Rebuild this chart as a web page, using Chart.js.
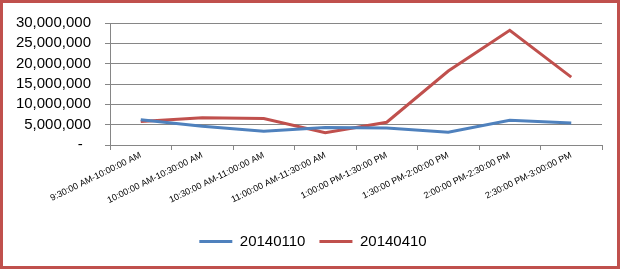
<!DOCTYPE html>
<html><head><meta charset="utf-8">
<script src="https://cdn.jsdelivr.net/npm/chart.js@4/dist/chart.umd.min.js"></script>
<style>
html,body{margin:0;padding:0;background:#fff;}
#wrap{position:relative;width:623px;height:269px;}
#frame{position:absolute;left:0;top:0;width:620px;height:269px;box-sizing:border-box;border:3px solid #C0504D;pointer-events:none;}
canvas{position:absolute;left:0;top:0;}
</style></head>
<body><div id="wrap"><canvas id="c" width="623" height="269"></canvas><div id="frame"></div></div>
<script>
const categories = ["9:30:00 AM-10:00:00 AM","10:00:00 AM-10:30:00 AM","10:30:00 AM-11:00:00 AM","11:00:00 AM-11:30:00 AM","1:00:00 PM-1:30:00 PM","1:30:00 PM-2:00:00 PM","2:00:00 PM-2:30:00 PM","2:30:00 PM-3:00:00 PM"];
const series20140110 = [6200000, 4600000, 3400000, 4300000, 4150000, 3150000, 6100000, 5400000];
const series20140410 = [5800000, 6700000, 6500000, 3000000, 5600000, 18200000, 28200000, 16700000];
const yTicks = [0, 5000000, 10000000, 15000000, 20000000, 25000000, 30000000];

const FONT = "'Liberation Sans', Arial, sans-serif";
const shiftLegend = {
  id: 'shiftLegend',
  afterLayout(chart) {
    const l = chart.legend;
    if (l) { l.left += 12; l.right += 12; }
  }
};
new Chart(document.getElementById('c'), {
  type: 'line',
  plugins: [shiftLegend],
  data: {
    labels: categories,
    datasets: [
      {label: '20140110', data: series20140110, borderColor: '#4F81BD', backgroundColor: '#4F81BD', borderWidth: 3, pointRadius: 0, tension: 0},
      {label: '20140410', data: series20140410, borderColor: '#C0504D', backgroundColor: '#C0504D', borderWidth: 3, pointRadius: 0, tension: 0}
    ]
  },
  options: {
    responsive: false, animation: false,
    layout: {padding: {top: 19, right: 21, bottom: 10, left: 0}},
    plugins: {
      tooltip: {enabled: false},
      legend: {position: 'bottom', labels: {font: {family: FONT, size: 15}, color: '#000', boxWidth: 33, boxHeight: 3, padding: 14,
        generateLabels: chart => Chart.defaults.plugins.legend.labels.generateLabels(chart).map(it => Object.assign(it, {lineWidth: 0, strokeStyle: 'rgba(0,0,0,0)'}))}}
    },
    scales: {
      x: {
        offset: true,
        grid: {display: true, drawOnChartArea: false, drawTicks: true, tickLength: 5, color: '#868686', offset: true},
        border: {color: '#868686'},
        ticks: {font: {family: FONT, size: 9}, color: '#000', minRotation: 26, maxRotation: 26, autoSkip: false, padding: 0},
        afterFit: s => { s.height = 75; }
      },
      y: {
        min: 0, max: 30000000,
        afterBuildTicks: s => { s.ticks = yTicks.map(v => ({value: v})); },
        grid: {color: '#868686', tickLength: 5},
        border: {color: '#868686'},
        ticks: {font: {family: FONT, size: 15}, color: '#000', padding: 14, autoSkip: false,
          callback: v => v === 0 ? '-  ' : v.toLocaleString('en-US')},
        afterFit: s => { s.width = 110; }
      }
    }
  }
});
</script></body></html>
